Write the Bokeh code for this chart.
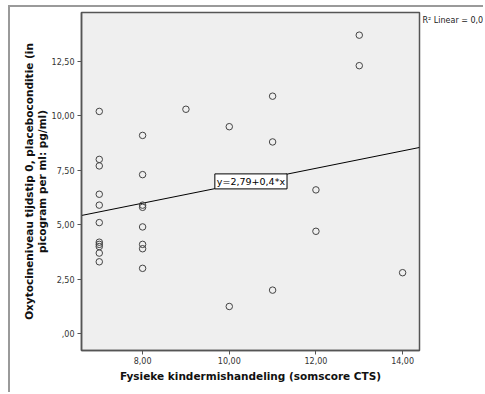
from bokeh.plotting import figure
from bokeh.models import FixedTicker, Label
from bokeh.embed import file_html
from bokeh.resources import INLINE

# Physical child maltreatment score (CTS sum score) vs. oxytocin level at t0, placebo condition
cts_score = [7, 7, 7, 7, 7, 7, 7, 7, 7, 7, 7,
             8, 8, 8, 8, 8, 8, 8, 8,
             9,
             10, 10,
             11, 11, 11,
             12, 12,
             13, 13,
             14]
oxytocin = [10.2, 8.0, 7.7, 6.4, 5.9, 5.1, 4.2, 4.1, 4.0, 3.7, 3.3,
            9.1, 7.3, 5.9, 5.8, 4.9, 4.1, 3.9, 3.0,
            10.3,
            9.5, 1.25,
            10.9, 8.8, 2.0,
            6.6, 4.7,
            13.7, 12.3,
            2.8]

# linear fit as reported in the chart
fit_intercept = 2.79
fit_slope = 0.4
r_squared_text = "R\u00b2 Linear = 0,031"

x_ticks = [8, 10, 12, 14]
x_tick_labels = ["8,00", "10,00", "12,00", "14,00"]
y_ticks = [0, 2.5, 5, 7.5, 10, 12.5]
y_tick_labels = [",00", "2,50", "5,00", "7,50", "10,00", "12,50"]

x_lo, x_hi = 6.59, 14.39
y_lo, y_hi = -0.77, 14.74

W, H = 475, 387
BORDER_L, BORDER_R, BORDER_T, BORDER_B = 71, 66, 5, 44
p = figure(width=W, height=H, x_range=(x_lo, x_hi), y_range=(y_lo, y_hi),
           output_backend="svg", toolbar_location=None,
           min_border_left=BORDER_L, min_border_right=BORDER_R,
           min_border_top=BORDER_T, min_border_bottom=BORDER_B)
p.styles = {"margin-left": "8px", "margin-top": "5px",
            "border-top": "2px solid #9a9a9a", "border-left": "2px solid #9a9a9a"}

p.background_fill_color = "#efefef"
p.border_fill_color = "white"
p.outline_line_color = "#555555"
p.outline_line_width = 1.5
p.grid.visible = False

tick_font = "DejaVu Sans"
for ax in (p.xaxis[0], p.yaxis[0]):
    ax.axis_line_color = "#555555"
    ax.axis_line_width = 1.5
    ax.major_tick_line_color = "#555555"
    ax.major_tick_out = 4
    ax.major_tick_in = 0
    ax.minor_tick_line_color = None
    ax.major_label_text_font = tick_font
    ax.major_label_text_font_size = "8px"
    ax.major_label_text_color = "#333333"
    ax.major_label_standoff = 3
    ax.axis_label_text_font = "DejaVu Sans"
    ax.axis_label_text_font_style = "bold"
    ax.axis_label_text_font_size = "10.5px"
    ax.axis_label_text_color = "#111111"

p.xaxis.ticker = FixedTicker(ticks=x_ticks)
p.xaxis.major_label_overrides = dict(zip(x_ticks, x_tick_labels))
p.xaxis.major_label_standoff = 2
p.yaxis.ticker = FixedTicker(ticks=y_ticks)
p.yaxis.major_label_overrides = dict(zip(y_ticks, y_tick_labels))

p.xaxis.axis_label = "Fysieke kindermishandeling (somscore CTS)"
p.xaxis.axis_label_standoff = 3
p.yaxis.axis_label = "Oxytocineniveau tijdstip 0, placeboconditie (in\npicogram per ml: pg/ml)"
p.yaxis.axis_label_standoff = 1
p.yaxis.axis_label_text_line_height = 1.05

# fit line across the full x range
p.line([x_lo, x_hi], [fit_intercept + fit_slope * x_lo, fit_intercept + fit_slope * x_hi],
       line_color="black", line_width=1)

p.scatter(cts_score, oxytocin, marker="circle", size=6.5, fill_color=None,
          line_color="#444444", line_width=1)

eq_x = 10.5
p.add_layout(Label(x=eq_x, y=fit_intercept + fit_slope * eq_x,
                   text="y=2,79+0,4*x", text_align="center", text_baseline="middle",
                   text_font="DejaVu Sans", text_font_size="9.5px", text_color="black",
                   background_fill_color="white", border_line_color="black",
                   border_line_width=1, padding=2))

# fit statistic beside the top-right corner of the frame; kept in a side
# panel so it is drawn in the border area instead of being clipped to the frame
p.add_layout(Label(x=W - BORDER_R + 1, y=BORDER_T + 1, x_units="canvas", y_units="canvas",
                   text=r_squared_text, text_align="left", text_baseline="top",
                   text_font="DejaVu Sans", text_font_size="8px", text_color="#222222"),
             "below")

open("out.html", "w").write(file_html(p, INLINE))
